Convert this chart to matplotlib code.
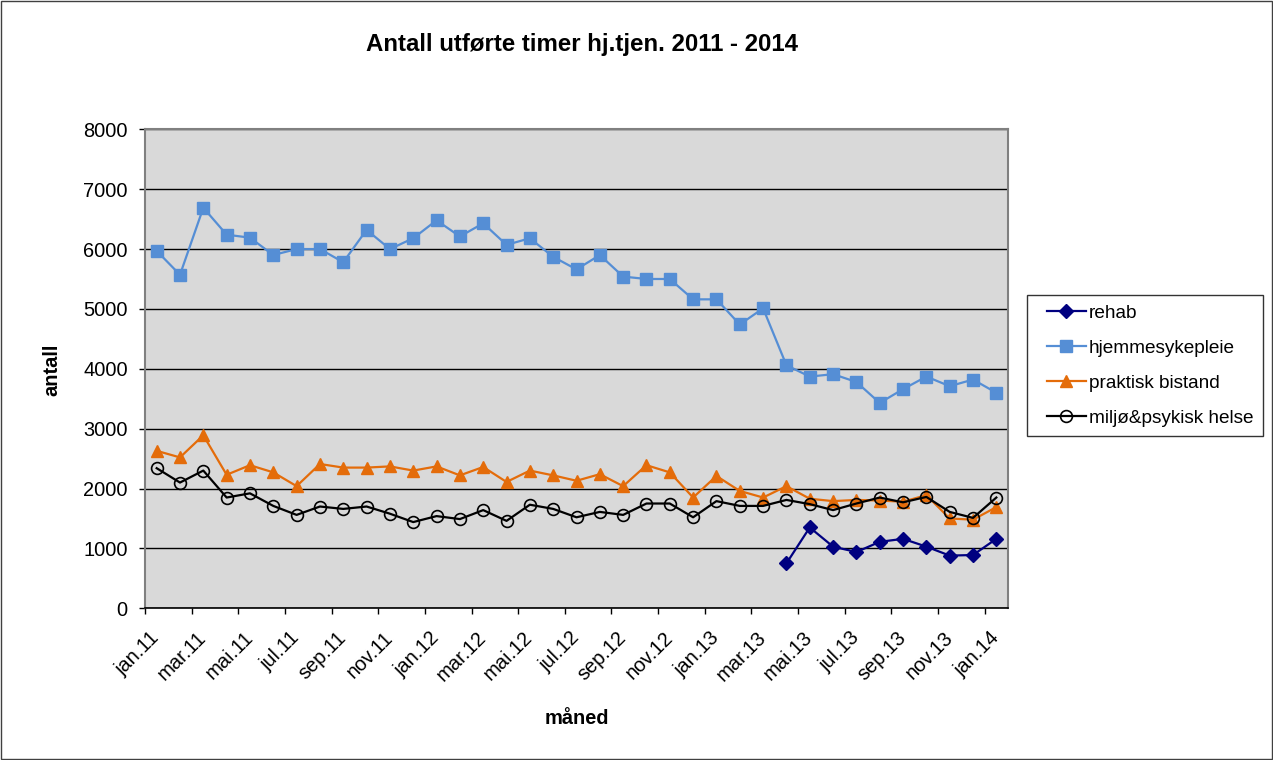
import matplotlib
matplotlib.use("Agg")
import matplotlib.pyplot as plt
from matplotlib.patches import Rectangle
from matplotlib.legend_handler import HandlerLine2D
import numpy as np

plt.rcParams['font.family'] = ['Liberation Sans', 'DejaVu Sans']

months = ["jan.11", "feb.11", "mar.11", "apr.11", "mai.11", "jun.11", "jul.11", "aug.11", "sep.11", "okt.11", "nov.11", "des.11",
          "jan.12", "feb.12", "mar.12", "apr.12", "mai.12", "jun.12", "jul.12", "aug.12", "sep.12", "okt.12", "nov.12", "des.12",
          "jan.13", "feb.13", "mar.13", "apr.13", "mai.13", "jun.13", "jul.13", "aug.13", "sep.13", "okt.13", "nov.13", "des.13",
          "jan.14"]

rehab = [None] * 27 + [750, 1350, 1030, 940, 1110, 1160, 1030, 880, 890, 1160]

hjemmesykepleie = [5970, 5570, 6690, 6240, 6190, 5900, 6000, 6000, 5780, 6320, 6000, 6180,
                   6480, 6210, 6430, 6070, 6180, 5870, 5660, 5900, 5540, 5500, 5500, 5160,
                   5160, 4740, 5010, 4060, 3870, 3910, 3780, 3430, 3660, 3870, 3710, 3820,
                   3600]

praktisk_bistand = [2630, 2520, 2890, 2230, 2390, 2270, 2040, 2410, 2350, 2350, 2370, 2300,
                    2370, 2220, 2360, 2110, 2300, 2220, 2130, 2240, 2040, 2390, 2270, 1850,
                    2210, 1960, 1850, 2040, 1830, 1790, 1810, 1800, 1780, 1890, 1500, 1480,
                    1690]

miljo_psykisk = [2340, 2100, 2300, 1850, 1920, 1710, 1560, 1700, 1660, 1700, 1580, 1440,
                 1540, 1490, 1640, 1460, 1730, 1660, 1520, 1610, 1560, 1750, 1750, 1520,
                 1790, 1710, 1710, 1810, 1740, 1640, 1750, 1850, 1770, 1860, 1610, 1510,
                 1850]

def arr(v):
    return np.array([np.nan if x is None else x for x in v], dtype=float)

fig = plt.figure(figsize=(12.73, 7.6), dpi=100)
fig.patch.set_facecolor('white')
ax = fig.add_axes([145/1273, 1 - 608.3/760, (1008-145)/1273, (608.3-129.3)/760])
ax.set_facecolor('#D9D9D9')

x = np.arange(len(months))
ax.plot(x, arr(rehab), color='#000080', marker='D', markersize=7, lw=1.6, label='rehab')
ax.plot(x, arr(hjemmesykepleie), color='#558ED5', marker='s', markersize=8, lw=1.6, label='hjemmesykepleie')
ax.plot(x, arr(praktisk_bistand), color='#E46C0A', marker='^', markersize=9, lw=1.6, label='praktisk bistand')
ax.plot(x, arr(miljo_psykisk), color='black', marker='o', markersize=8.5, markerfacecolor='none',
        markeredgewidth=1.2, lw=1.6, label='miljø&psykisk helse')

ax.set_xlim(-0.5, len(months) - 0.5)
ax.set_ylim(0, 8000)
ax.set_yticks(np.arange(0, 8001, 1000))
ax.yaxis.grid(True, color='black', lw=1)
ax.set_axisbelow(True)

ax.set_xticks(x[::2])
ax.set_xticklabels(months[::2], rotation=45, ha='right', va='center', rotation_mode='anchor')
ax.set_xticks(np.arange(-0.5, len(months), 2), minor=True)
ax.tick_params(axis='x', which='major', length=0, pad=19, labelsize=14.4)
ax.tick_params(axis='x', which='minor', length=4.5, width=1, direction='out')
ax.tick_params(axis='y', which='major', length=4.5, width=1, direction='out', pad=8, labelsize=14.4)

for s in ['left', 'top', 'right']:
    ax.spines[s].set_color('#808080')
    ax.spines[s].set_linewidth(1.5)
ax.spines['bottom'].set_color('black')
ax.spines['bottom'].set_linewidth(1.2)

fig.text(581.5/1273, 1 - 45/760, 'Antall utførte timer hj.tjen. 2011 - 2014', ha='center', va='center',
         fontsize=17.3, fontweight='bold')
fig.text(51.7/1273, 1 - 370/760, 'antall', ha='center', va='center', rotation=90,
         fontsize=14.4, fontweight='bold')
fig.text(577/1273, 1 - 718/760, 'måned', ha='center', va='center', fontsize=14.4, fontweight='bold')

leg = fig.legend(loc='upper left', bbox_to_anchor=(1027/1273, 1 - 295/760), fontsize=13.7,
                 frameon=True, fancybox=False, shadow=False, handlelength=2.6, handletextpad=0.15,
                 labelspacing=0.93, borderpad=0.5, borderaxespad=0,
                 handler_map={plt.Line2D: HandlerLine2D(xpad=0.55)})
leg.get_frame().set_edgecolor('black')
leg.get_frame().set_linewidth(1)

fig.add_artist(Rectangle((0.001, 0.001), 0.998, 0.998, transform=fig.transFigure, fill=False,
                         edgecolor='#404040', lw=1))

fig.savefig('out.png', dpi=100)
